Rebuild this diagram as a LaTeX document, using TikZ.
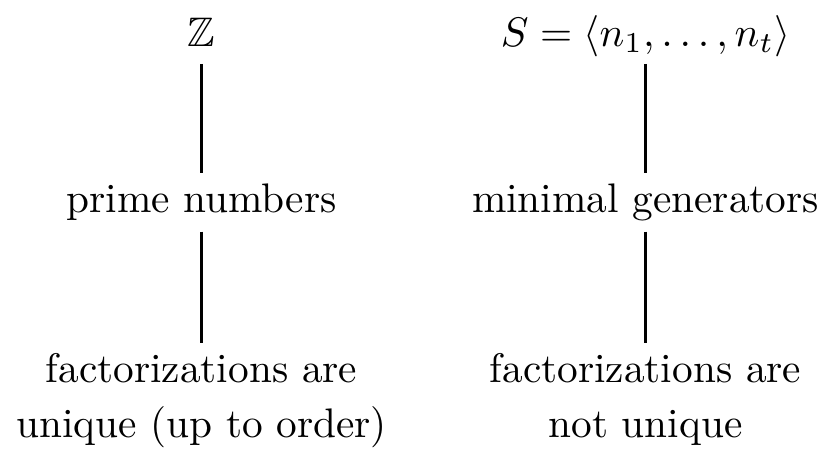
\documentclass[tikz,border=0pt]{standalone}
\usepackage{amssymb}
\begin{document}
\begin{tikzpicture}[
  txt/.style={anchor=base, inner sep=0pt, font=\fontsize{10pt}{12pt}\selectfont},
  conn/.style={line width=0.55pt}
]
\useasboundingbox (0,0) rectangle (200.24pt,-109.2pt);
% left column
\node[txt] (z)  at (48.8pt,-11.14pt) {$\mathbb{Z}$};
\node[txt] (p)  at (48.8pt,-51.57pt) {prime numbers};
\node[txt] (f1) at (48.8pt,-92.5pt) {factorizations are};
\node[txt] (u1) at (48.8pt,-106.0pt) {unique (up to order)};
% right column
\node[txt] (s)  at (156.3pt,-11.14pt) {$S=\langle n_1,\ldots,n_t\rangle$};
\node[txt] (g)  at (156.3pt,-51.57pt) {minimal generators};
\node[txt] (f2) at (156.3pt,-92.5pt) {factorizations are};
\node[txt] (u2) at (156.3pt,-106.0pt) {not unique};
% connectors
\draw[conn] ([yshift=-4.3pt]z.base) -- ([yshift=9.6pt]p.base);
\draw[conn] ([yshift=-4.5pt]p.base) -- ([yshift=9.5pt]f1.base);
\draw[conn] ([yshift=-4.3pt]s.base) -- ([yshift=9.6pt]g.base);
\draw[conn] ([yshift=-4.5pt]g.base) -- ([yshift=9.5pt]f2.base);
\end{tikzpicture}
\end{document}
